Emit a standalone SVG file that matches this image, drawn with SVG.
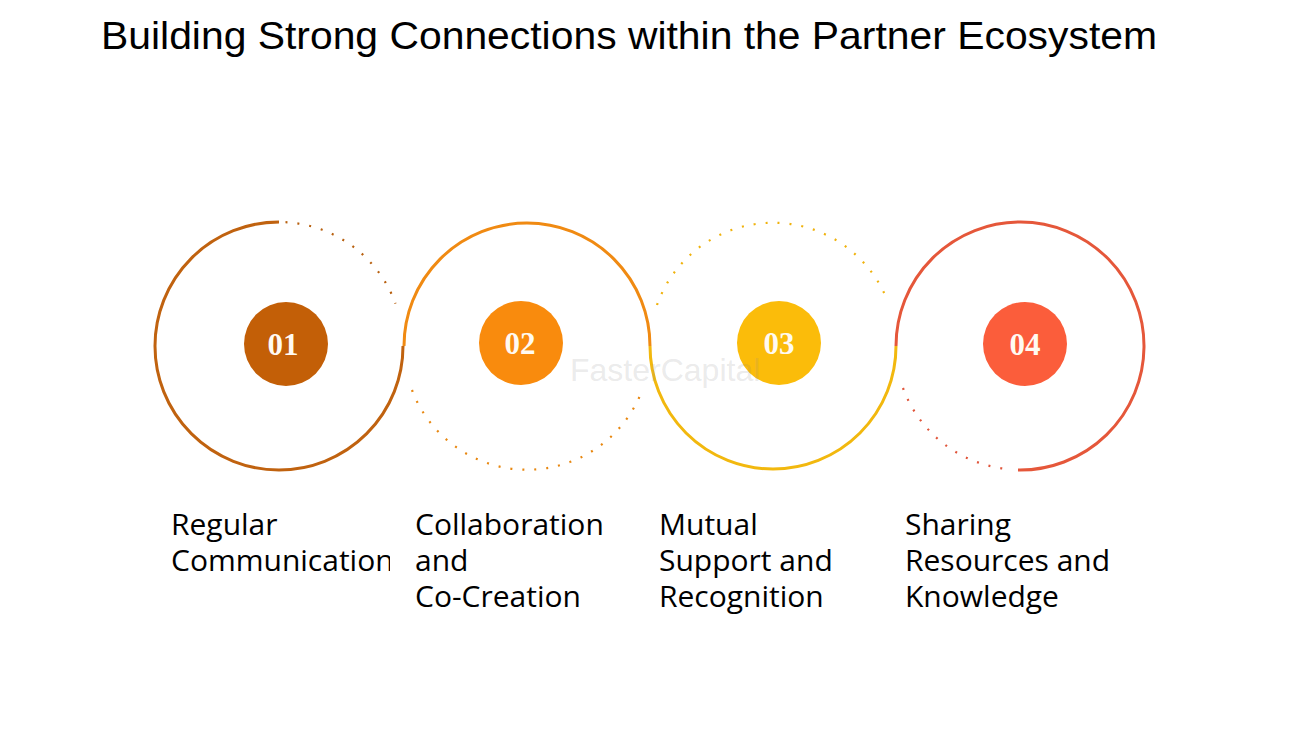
<svg xmlns="http://www.w3.org/2000/svg" width="1300" height="732" viewBox="0 0 1300 732">
<defs>
<style>
.title{font-family:"Liberation Sans",Arial,sans-serif;font-size:39px;fill:#000}
.lbl{font-family:"Open Sans",Lato,sans-serif;font-size:30px;fill:#000}
.num{font-family:"Liberation Serif","DejaVu Serif",serif;font-size:31px;font-weight:bold;fill:#fffaf2;text-anchor:middle}
.ring{fill:none;stroke-width:3}
.dot{fill:none;stroke-width:2.2;stroke-dasharray:2 10}
.wm{font-family:"Liberation Sans",Arial,sans-serif;font-size:32px;fill:#888;fill-opacity:0.18}
</style>
<clipPath id="clip1"><rect x="150" y="495" width="240" height="130"/></clipPath>
</defs>
<rect width="1300" height="732" fill="#fff"/>
<text class="title" x="101" y="49" textLength="1056" lengthAdjust="spacingAndGlyphs">Building Strong Connections within the Partner Ecosystem</text>
<g id="connectors">
<path class="ring" stroke="#C0620F" d="M279,222 A124,124 0 1 0 403,346"/>
<path class="dot" stroke="#B8600F" d="M285.5,222.2 A124,124 0 0 1 395.5,303.6"/>
<path class="ring" stroke="#F08A12" d="M404,346 A123,123 0 0 1 650,346"/>
<path class="dot" stroke="#E8870F" d="M412,390 A123,123 0 0 0 643,388"/>
<path class="ring" stroke="#F2B80E" d="M650,346 A123,123 0 0 0 896,346"/>
<path class="dot" stroke="#F0B20C" d="M657,305 A123,123 0 0 1 888,302"/>
<path class="ring" stroke="#E5573A" d="M896,346 A124,124 0 1 1 1018,470"/>
<path class="dot" stroke="#E0553A" d="M903,388 A124,124 0 0 0 1007,469"/>
</g>
<g id="node1">
<circle cx="286" cy="344" r="42" fill="#C35F07"/>
<text class="num" x="283" y="355">01</text>
<text class="lbl" clip-path="url(#clip1)"><tspan x="171" y="535">Regular</tspan><tspan x="171" y="571">Communication</tspan></text>
</g>
<g id="node2">
<circle cx="521" cy="343" r="42" fill="#F98B0D"/>
<text class="num" x="520" y="354">02</text>
<text class="lbl"><tspan x="415" y="535">Collaboration</tspan><tspan x="415" y="571">and</tspan><tspan x="415" y="607">Co-Creation</tspan></text>
</g>
<g id="node3">
<circle cx="779" cy="343" r="42" fill="#FBBC0A"/>
<text class="num" x="779" y="354">03</text>
<text class="lbl"><tspan x="659" y="535">Mutual</tspan><tspan x="659" y="571">Support and</tspan><tspan x="659" y="607">Recognition</tspan></text>
</g>
<g id="node4">
<circle cx="1025" cy="344" r="42" fill="#FB5D3B"/>
<text class="num" x="1025" y="355">04</text>
<text class="lbl"><tspan x="905" y="535">Sharing</tspan><tspan x="905" y="571">Resources and</tspan><tspan x="905" y="607">Knowledge</tspan></text>
</g>
<text class="wm" x="570" y="381">FasterCapital</text>
</svg>
